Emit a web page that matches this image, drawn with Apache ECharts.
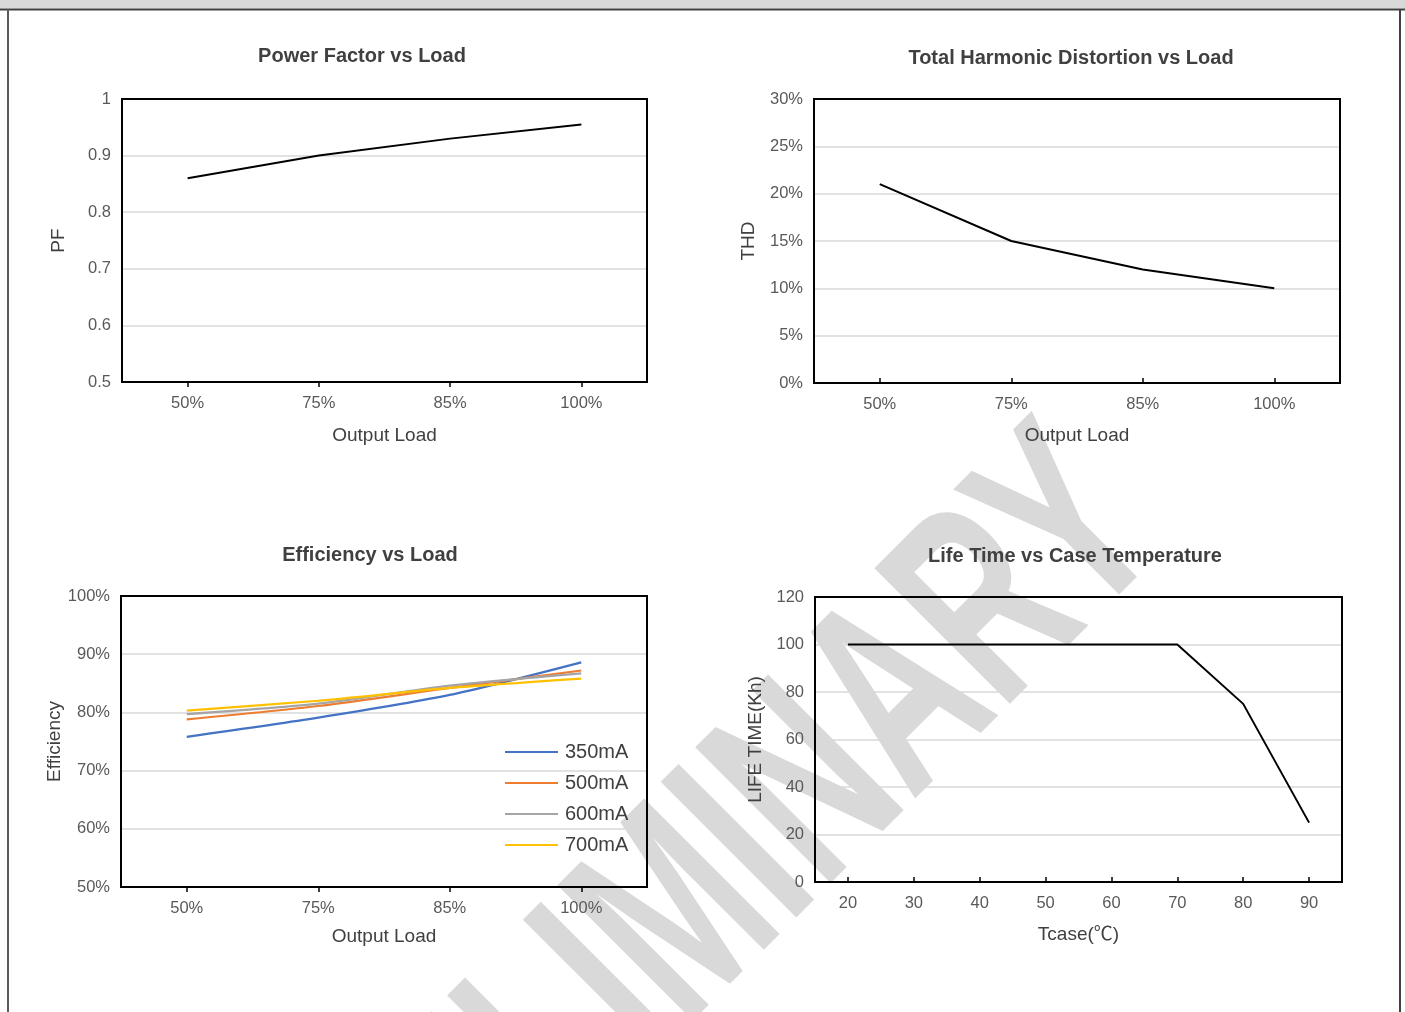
<!DOCTYPE html>
<html>
<head>
<meta charset="utf-8">
<script src="https://cdn.jsdelivr.net/npm/echarts@6/dist/echarts.min.js"></script>
<style>
html,body{margin:0;padding:0;background:#fff;}
#main{width:1405px;height:1012px;}
</style>
</head>
<body>
<div id="main"></div>
<script>
// ---- data ----
const loadCats = ['50%', '75%', '85%', '100%'];
const pfValues = [0.86, 0.90, 0.93, 0.955];
const thdValues = [21, 15, 12, 10];
const effNames = ['350mA', '500mA', '600mA', '700mA'];
const eff350 = [75.8, 79.1, 83.0, 88.6];
const eff500 = [78.8, 81.1, 84.2, 87.2];
const eff600 = [79.7, 81.5, 84.6, 86.7];
const eff700 = [80.3, 82.0, 84.2, 85.8];
const tcaseCats = ['20', '30', '40', '50', '60', '70', '80', '90'];
const lifeValues = [100, 100, 100, 100, 100, 100, 75, 25];
const pfTicks = { min: 0.5, max: 1, interval: 0.1 };
const thdTicks = { min: 0, max: 30, interval: 5 };
const effTicks = { min: 50, max: 100, interval: 10 };
const lifeTicks = { min: 0, max: 120, interval: 20 };

const FONT = '"Liberation Sans", Arial, "Noto Sans CJK SC", sans-serif';
const TXT = '#595959';
const DARK = '#404040';

function catAxis(gi, cats, inside, name, nameGap) {
  return {
    type: 'category', gridIndex: gi, data: cats, boundaryGap: true,
    name: name, nameLocation: 'middle', nameGap: nameGap,
    nameTextStyle: { fontSize: 19, color: DARK, fontFamily: FONT },
    axisLine: { show: true, lineStyle: { color: '#000', width: 2 } },
    axisTick: { show: true, alignWithLabel: true, inside: inside, length: 5, lineStyle: { color: '#000', width: 1.5 } },
    axisLabel: { fontSize: 16.5, color: TXT, fontFamily: FONT, margin: 13 },
    splitLine: { show: false }
  };
}
function valAxis(gi, t, name, nameGap, fmt) {
  return {
    type: 'value', gridIndex: gi, min: t.min, max: t.max, interval: t.interval,
    name: name, nameLocation: 'middle', nameGap: nameGap,
    nameTextStyle: { fontSize: 19, color: DARK, fontFamily: FONT },
    axisLine: { show: true, lineStyle: { color: '#000', width: 2 } },
    axisTick: { show: false },
    axisLabel: { fontSize: 16.5, color: TXT, fontFamily: FONT, margin: 11, formatter: fmt },
    splitLine: { show: true, showMinLine: false, showMaxLine: false, lineStyle: { color: '#d9d9d9', width: 1.5 } }
  };
}
function gridBox(l, t, w, h) {
  return { left: l, top: t, width: w, height: h, show: true, z: 3, borderColor: '#000', borderWidth: 2,
    backgroundColor: 'transparent', containLabel: false, outerBoundsMode: 'none' };
}
function titleAt(text, x, y) {
  return { text: text, left: x, top: y, textAlign: 'center', padding: 0,
    textStyle: { fontSize: 20, fontWeight: 'bold', color: DARK, fontFamily: FONT } };
}
const pctFmt = v => v + '%';
const pfFmt = v => String(Math.round(v * 10) / 10);

const effColors = ['#4472C4', '#ED7D31', '#A5A5A5', '#FFC000'];
const effData = [eff350, eff500, eff600, eff700];

const option = {
  animation: false,
  backgroundColor: '#fff',
  title: [
    titleAt('Power Factor vs Load', 362, 46),
    titleAt('Total Harmonic Distortion vs Load', 1071, 48),
    titleAt('Efficiency vs Load', 370, 545),
    titleAt('Life Time vs Case Temperature', 1075, 546)
  ],
  grid: [
    gridBox(122, 99, 525, 283),
    gridBox(814, 99, 526, 284),
    gridBox(121, 596, 526, 291),
    gridBox(815, 597, 527, 285)
  ],
  xAxis: [
    catAxis(0, loadCats, false, 'Output Load', 44),
    catAxis(1, loadCats, true, 'Output Load', 43),
    catAxis(2, loadCats, false, 'Output Load', 40),
    catAxis(3, tcaseCats, true, 'Tcase(℃)', 43)
  ],
  yAxis: [
    valAxis(0, pfTicks, 'PF', 54, pfFmt),
    valAxis(1, thdTicks, 'THD', 56, pctFmt),
    valAxis(2, effTicks, 'Efficiency', 49, pctFmt),
    valAxis(3, lifeTicks, 'LIFE TIME(Kh)', 50, null)
  ],
  legend: {
    data: effNames, orient: 'vertical', left: 500, top: 737,
    icon: 'rect', itemWidth: 53, itemHeight: 2, itemGap: 11,
    textStyle: { fontSize: 20, color: DARK, fontFamily: FONT, lineHeight: 20, padding: [0, 0, 0, 2] }
  },
  series: [
    { type: 'line', xAxisIndex: 0, yAxisIndex: 0, data: pfValues, symbol: 'none',
      lineStyle: { color: '#000', width: 2 } },
    { type: 'line', xAxisIndex: 1, yAxisIndex: 1, data: thdValues, symbol: 'none',
      lineStyle: { color: '#000', width: 2 } },
    ...effNames.map((n, i) => ({
      type: 'line', name: n, xAxisIndex: 2, yAxisIndex: 2, data: effData[i], symbol: 'none',
      smooth: 0.25, color: effColors[i], itemStyle: { color: effColors[i] },
      lineStyle: { color: effColors[i], width: 2.2 }
    })),
    { type: 'line', xAxisIndex: 3, yAxisIndex: 3, data: lifeValues, symbol: 'none',
      lineStyle: { color: '#000', width: 2 } }
  ],
  graphic: [
    { type: 'text', x: 690, y: 915, rotation: Math.PI / 4, scaleX: 0.68, scaleY: 1.08, z: -10, silent: true,
      style: { text: 'PRELIMINARY', font: 'bold 258px "Liberation Sans"', fill: '#d9d9d9',
        align: 'center', verticalAlign: 'middle', textAlign: 'center', textVerticalAlign: 'middle' } },
    { type: 'rect', z: 10, silent: true, shape: { x: 0, y: 0, width: 1405, height: 8.5 }, style: { fill: '#d9d9d9' } },
    { type: 'line', z: 10, silent: true, shape: { x1: 0, y1: 9.5, x2: 1405, y2: 9.5 }, style: { stroke: '#404040', lineWidth: 2 } },
    { type: 'line', z: 10, silent: true, shape: { x1: 8, y1: 9, x2: 8, y2: 1012 }, style: { stroke: '#595959', lineWidth: 2 } },
    { type: 'line', z: 10, silent: true, shape: { x1: 1400, y1: 9, x2: 1400, y2: 1012 }, style: { stroke: '#404040', lineWidth: 2 } }
  ]
};

const chart = echarts.init(document.getElementById('main'), null, { renderer: 'canvas' });
chart.setOption(option);
</script>
</body>
</html>
